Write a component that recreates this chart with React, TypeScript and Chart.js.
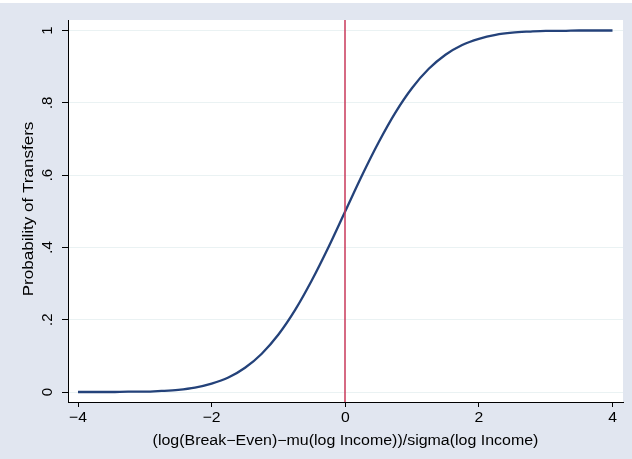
import React, { useEffect, useRef } from "react";
import { Chart, registerables } from "chart.js";

Chart.register(...registerables);

// Data
const xValues = [
  -4, -3.75, -3.5, -3.25, -3, -2.75, -2.5, -2.25, -2, -1.75, -1.5, -1.25, -1, -0.75, -0.5, -0.25,
  0, 0.25, 0.5, 0.75, 1, 1.25, 1.5, 1.75, 2, 2.25, 2.5, 2.75, 3, 3.25, 3.5, 3.75, 4,
];
const probValues = [
  0.0, 0.0, 0.0, 0.001, 0.001, 0.003, 0.006, 0.012, 0.023, 0.04, 0.067, 0.106, 0.159, 0.227, 0.309, 0.401,
  0.5, 0.599, 0.691, 0.773, 0.841, 0.894, 0.933, 0.96, 0.977, 0.988, 0.994, 0.997, 0.999, 0.999, 1.0, 1.0, 1.0,
];
const xLineAt = 0;
const xTicks = [-4, -2, 0, 2, 4];
const xTickLabels = ["\u22124", "\u22122", "0", "2", "4"];
const yTicks = [0, 0.2, 0.4, 0.6, 0.8, 1];
const yTickLabels = ["0", ".2", ".4", ".6", ".8", "1"];
const xTitle = "(log(Break\u2212Even)\u2212mu(log Income))/sigma(log Income)";
const yTitle = "Probability of Transfers";

const FONT = "'Liberation Sans', Arial, Helvetica, sans-serif";
const BG = "#e1e6f0";

function drawText(
  ctx: CanvasRenderingContext2D,
  text: string,
  x: number,
  y: number,
  size: number,
  stretch: number,
  rotate: number
) {
  ctx.save();
  ctx.translate(x, y);
  ctx.rotate(rotate);
  ctx.scale(stretch, 1);
  ctx.font = `${size}px ${FONT}`;
  ctx.fillStyle = "#000";
  ctx.textAlign = "center";
  ctx.textBaseline = "middle";
  ctx.fillText(text, 0, 0);
  ctx.restore();
}

export default function App() {
  const ref = useRef<HTMLCanvasElement | null>(null);

  useEffect(() => {
    document.body.style.margin = "0";
    const canvas = ref.current;
    if (!canvas) return;

    const bgPlugin = {
      id: "bgPlugin",
      beforeDraw(chart: any) {
        const { ctx, width, height, chartArea } = chart;
        ctx.save();
        ctx.fillStyle = "#ffffff";
        ctx.fillRect(0, 0, width, height);
        ctx.fillStyle = BG;
        ctx.fillRect(0, 3, width, height - 3);
        ctx.fillStyle = "#ffffff";
        ctx.fillRect(chartArea.left, chartArea.top, chartArea.right - chartArea.left, chartArea.bottom - chartArea.top);
        ctx.restore();
      },
      afterDatasetsDraw(chart: any) {
        const { ctx, chartArea, scales } = chart;
        const px = Math.round(scales.x.getPixelForValue(xLineAt));
        ctx.save();
        ctx.strokeStyle = "#c8385a";
        ctx.lineWidth = 1.5;
        ctx.beginPath();
        ctx.moveTo(px, chartArea.top);
        ctx.lineTo(px, chartArea.bottom);
        ctx.stroke();
        ctx.restore();
      },
      afterDraw(chart: any) {
        const { ctx, scales, chartArea } = chart;
        yTicks.forEach((v, i) => {
          drawText(ctx, yTickLabels[i], 48, scales.y.getPixelForValue(v), 15, 1.0, -Math.PI / 2);
        });
        xTicks.forEach((v, i) => {
          drawText(ctx, xTickLabels[i], scales.x.getPixelForValue(v), 418, 15, 1.05, 0);
        });
        drawText(ctx, xTitle, (chartArea.left + chartArea.right) / 2, 441, 14, 1.14, 0);
        drawText(ctx, yTitle, 29, (chartArea.top + chartArea.bottom) / 2 - 2, 15.5, 1.1, -Math.PI / 2);
      },
    };

    const chart = new Chart(canvas, {
      type: "line",
      data: {
        datasets: [
          {
            data: xValues.map((x, i) => ({ x, y: probValues[i] })),
            borderColor: "#24427a",
            borderWidth: 2.3,
            pointRadius: 0,
            cubicInterpolationMode: "monotone",
            fill: false,
          },
        ],
      },
      options: {
        animation: false,
        responsive: false,
        events: [],
        layout: { padding: { top: 20, left: 0, right: 9, bottom: 0 } },
        plugins: { legend: { display: false }, tooltip: { enabled: false } },
        scales: {
          x: {
            type: "linear",
            min: -4.15,
            max: 4.157,
            afterBuildTicks: (s: any) => {
              s.ticks = xTicks.map((v) => ({ value: v }));
            },
            afterFit: (s: any) => {
              s.height = 57;
            },
            grid: { drawOnChartArea: false, tickColor: "#000", tickLength: 5, lineWidth: 1 },
            border: { display: true, color: "#000", width: 1 },
            ticks: { display: false },
          },
          y: {
            type: "linear",
            min: -0.0276,
            max: 1.029,
            afterBuildTicks: (s: any) => {
              s.ticks = yTicks.map((v) => ({ value: v }));
            },
            afterFit: (s: any) => {
              s.width = 68;
            },
            grid: { color: "#eaf2f3", tickColor: "#000", tickLength: 6, lineWidth: 1 },
            border: { display: true, color: "#000", width: 1 },
            ticks: { display: false },
          },
        },
      },
      plugins: [bgPlugin],
    } as any);

    return () => chart.destroy();
  }, []);

  return (
    <div style={{ position: "fixed", left: 0, top: 0, width: 632, height: 459 }}>
      <canvas ref={ref} width={632} height={459} style={{ width: 632, height: 459, display: "block" }} />
    </div>
  );
}
